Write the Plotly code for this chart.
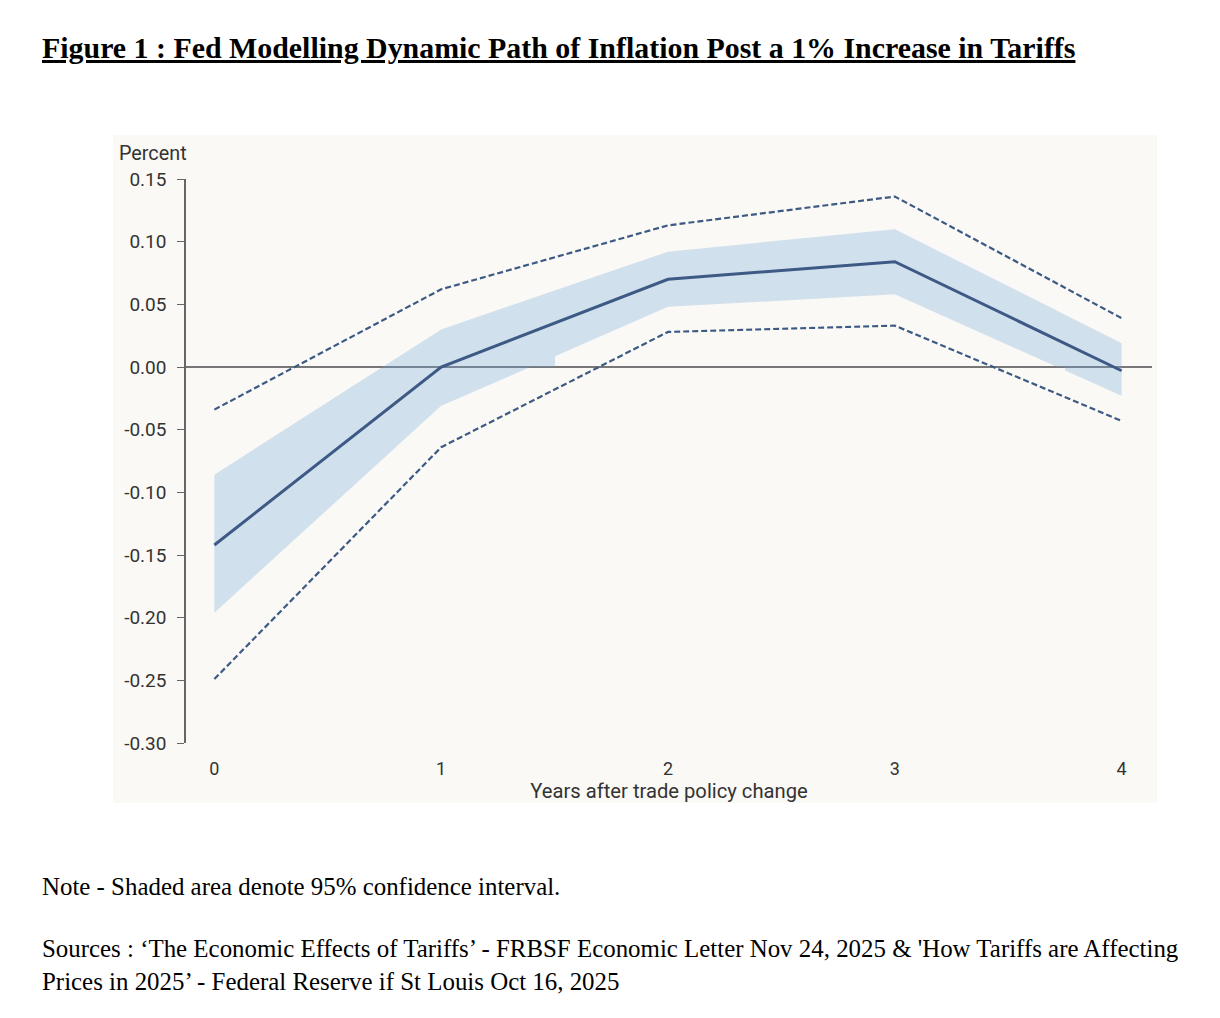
import plotly.graph_objects as go

# ---- data ----
years = [0, 1, 2, 3, 4]
central = [-0.142, 0.000, 0.070, 0.084, -0.003]
upper_dashed = [-0.034, 0.062, 0.113, 0.136, 0.039]
lower_dashed = [-0.249, -0.064, 0.028, 0.033, -0.043]

band_upper_x = [0, 1, 2, 3, 4]
band_upper_y = [-0.086, 0.030, 0.092, 0.110, 0.019]
# lower edge of shaded band (incl. the small steps where the band is split at zero)
band_lower_x = [0, 1, 1.394, 1.502, 1.502, 2, 3, 3.716, 3.751, 3.751, 4]
band_lower_y = [-0.196, -0.031, 0.0, 0.0, 0.0086, 0.048, 0.058, 0.0, 0.0, -0.0028, -0.023]

y_ticks = [0.15, 0.10, 0.05, 0.00, -0.05, -0.10, -0.15, -0.20, -0.25, -0.30]
y_ticktext = ["0.15", "0.10", "0.05", "0.00", "-0.05", "-0.10", "-0.15", "-0.20", "-0.25", "-0.30"]
x_ticks = [0, 1, 2, 3, 4]
x_ticktext = ["0", "1", "2", "3", "4"]

title_text = "Figure 1 : Fed Modelling Dynamic Path of Inflation Post a 1% Increase in Tariffs"
note_text = "Note - Shaded area denote 95% confidence interval."
source_line1 = ("Sources : \u2018The Economic Effects of Tariffs\u2019 - FRBSF Economic Letter Nov 24, 2025 "
                "&amp; 'How Tariffs are Affecting")
source_line2 = "Prices in 2025\u2019 - Federal Reserve if St Louis Oct 16, 2025"

LINE = "#3d5a85"
BAND = "rgba(117,166,219,0.30)"
PANEL = "#faf9f5"
AX = "#666666"
TXT = "#333333"

fig = go.Figure()

fig.add_trace(go.Scatter(
    x=band_upper_x + band_lower_x[::-1],
    y=band_upper_y + band_lower_y[::-1],
    fill="toself", fillcolor=BAND, line=dict(width=0), mode="lines",
    hoverinfo="skip", showlegend=False))

fig.add_trace(go.Scatter(x=years, y=upper_dashed, mode="lines",
                         line=dict(color=LINE, width=2.2, dash="6px,3px"), showlegend=False))
fig.add_trace(go.Scatter(x=years, y=lower_dashed, mode="lines",
                         line=dict(color=LINE, width=2.2, dash="6px,3px"), showlegend=False))
fig.add_trace(go.Scatter(x=years, y=central, mode="lines",
                         line=dict(color=LINE, width=3), showlegend=False))

OFF = 8  # page body margin
W, H = 1220 - 2 * OFF, 1018 - 2 * OFF
L = 186 - OFF
T = 179 - OFF
PR = 1152 - OFF  # right edge of plot area (page px minus offset)
PB = 743 - OFF   # bottom edge of plot area
R = W - PR
B = H - PB
pw, ph = W - L - R, H - T - B

def px(xp):
    return (xp - OFF - L) / pw

def py(yp):
    return (PB - (yp - OFF)) / ph

fig.update_layout(
    width=W, height=H,
    margin=dict(l=L, r=R, t=T, b=B, pad=0),
    paper_bgcolor="white", plot_bgcolor=PANEL,
    font=dict(family="Roboto", color=TXT, size=19),
    xaxis=dict(range=[-0.125, 4.134], tickvals=x_ticks, ticktext=x_ticktext,
               showgrid=False, zeroline=False, showline=False,
               ticks="outside", ticklen=9, tickcolor="rgba(0,0,0,0)",
               tickfont=dict(size=18, color=TXT),
               title=dict(text="Years after trade policy change", standoff=0,
                          font=dict(size=20.2, color=TXT))),
    yaxis=dict(range=[-0.30, 0.15], tickvals=y_ticks, ticktext=y_ticktext,
               showgrid=False, zeroline=True, zerolinecolor="#777777", zerolinewidth=1.5,
               showline=True, linecolor=AX, linewidth=1.5,
               ticks="outside", ticklen=7, tickcolor=AX, tickwidth=1.2,
               ticklabelstandoff=7,
               tickfont=dict(size=19, color=TXT)),
    shapes=[dict(type="rect", xref="paper", yref="paper", layer="below",
                 x0=px(113), x1=px(1157), y0=py(803), y1=py(135),
                 fillcolor=PANEL, line=dict(width=0))],
    annotations=[
        dict(text="Percent", xref="paper", yref="paper", x=px(117), y=py(153),
             xanchor="left", yanchor="middle", showarrow=False,
             font=dict(size=19.8, color=TXT)),
        dict(text="<b><u>" + title_text + "</u></b>", xref="paper", yref="paper",
             x=px(40), y=py(47), xanchor="left", yanchor="middle", showarrow=False,
             font=dict(family="Liberation Serif", size=29.9, color="black")),
        dict(text=note_text, xref="paper", yref="paper",
             x=px(40), y=py(886), xanchor="left", yanchor="middle", showarrow=False,
             font=dict(family="Liberation Serif", size=24.9, color="black")),
        dict(text=source_line1, xref="paper", yref="paper",
             x=px(40), y=py(948), xanchor="left", yanchor="middle", showarrow=False,
             font=dict(family="Liberation Serif", size=24.9, color="black")),
        dict(text=source_line2, xref="paper", yref="paper",
             x=px(40), y=py(981), xanchor="left", yanchor="middle", showarrow=False,
             font=dict(family="Liberation Serif", size=24.9, color="black")),
    ],
)

fig.write_html("out.html")
